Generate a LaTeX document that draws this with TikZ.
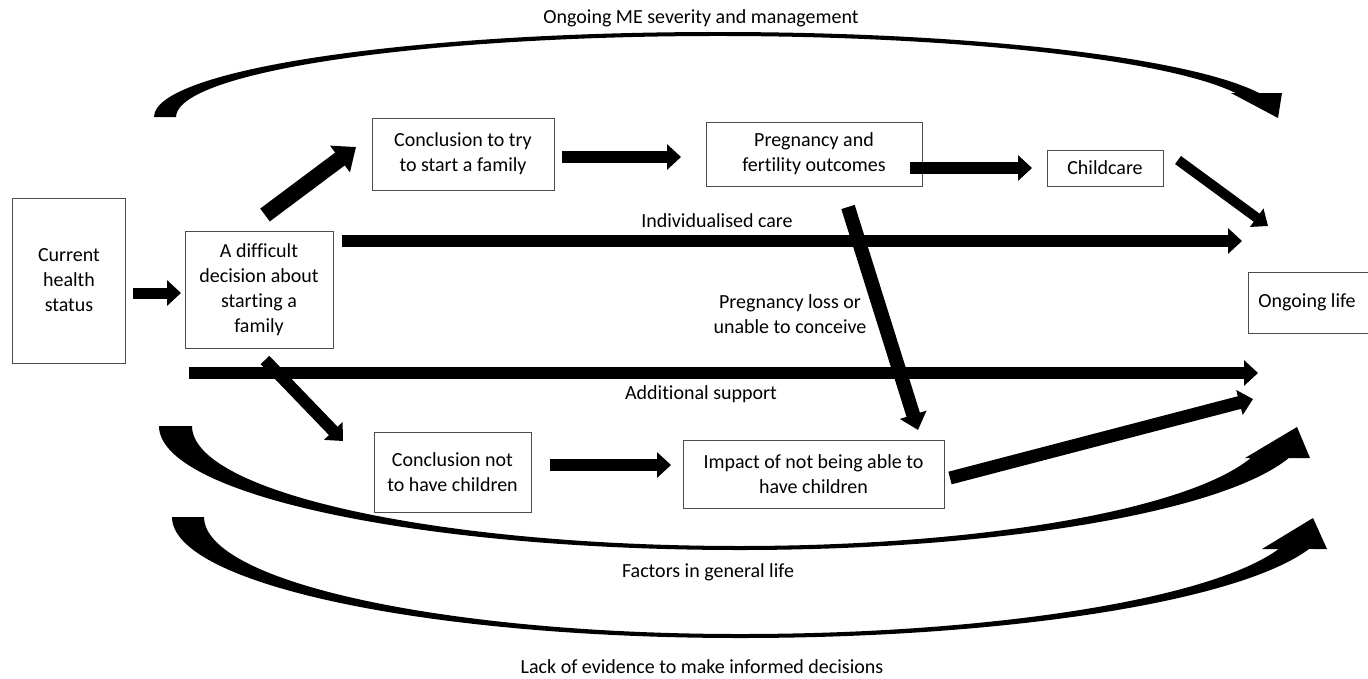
\documentclass[tikz,border=0pt]{standalone}
\usepackage{fontspec}
\setmainfont{Carlito}[Ligatures=NoCommon]
\usetikzlibrary{positioning,arrows.meta}

\begin{document}
\begin{tikzpicture}[x=1pt, y=-1pt,
    font=\fontsize{20}{25}\selectfont,
    box/.style={draw=black!70, line width=0.8pt, align=center, inner sep=0pt},
    lbl/.style={align=center, inner sep=0pt},
    blk/.style={line width=12pt, -{Triangle[length=14pt,width=25pt]}}]
    \useasboundingbox (0,0) rectangle (1368,678);

    % boxes
    \node[box, minimum width=113pt, minimum height=165pt] (cur) at (69,280.5) {Current\\health\\status};
    \node[box, minimum width=148pt, minimum height=117pt] (dec) at (259,289.5) {A difficult\\decision about\\starting a\\family};
    \node[box, minimum width=182pt, minimum height=72pt] (ctry) at (463,154) {Conclusion to try\\to start a family};
    \node[box, minimum width=216pt, minimum height=64pt] (preg) at (814,154) {Pregnancy and\\fertility outcomes};
    \node[box, minimum width=116pt, minimum height=36pt] (child) at (1105,168) {Childcare};
    \node[box, minimum width=122pt, minimum height=61pt] (life) at (1309,302.5) {\hspace*{-4pt}Ongoing life};
    \node[box, minimum width=157pt, minimum height=80pt] (cnot) at (452.5,472) {Conclusion not\\to have children};
    \node[box, minimum width=261pt, minimum height=68pt] (imp) at (813.5,474) {Impact of not being able to\\have children};

    % labels
    \node[lbl] (me) at (701,18) {Ongoing ME severity and management};
    \node[lbl] (indiv) at (717,221) {Individualised care};
    \node[lbl] (loss) at (790,314) {Pregnancy loss or\\unable to conceive};
    \node[lbl] (supp) at (701,394) {Additional support};
    \node[lbl] (gen) at (708,572) {Factors in general life};
    \node[lbl] (evid) at (702,667) {Lack of evidence to make informed decisions};

    % arrow ends
    \coordinate (cur-r) at (133,293);
    \coordinate (dec-l) at (181,293);
    \coordinate (dec-t) at (265,215);
    \coordinate (ctry-l) at (356,147);
    \coordinate (ctry-r) at (562,157);
    \coordinate (preg-l) at (681,157);
    \coordinate (preg-r) at (910,168);
    \coordinate (child-l) at (1032,168);
    \coordinate (child-r) at (1178,160);
    \coordinate (life-t) at (1268,226);
    \coordinate (dec-b) at (265,360);
    \coordinate (cnot-l) at (343,441);
    \coordinate (cnot-r) at (550,465);
    \coordinate (imp-l) at (671,465);
    \coordinate (preg-b) at (848,207);
    \coordinate (imp-t) at (918,430);
    \coordinate (imp-r) at (950,478);
    \coordinate (life-b) at (1253,399);
    \coordinate (indiv-s) at (342,241);
    \coordinate (indiv-e) at (1242,241);
    \coordinate (supp-s) at (189,373);
    \coordinate (supp-e) at (1258,373);

    \draw[blk, line width=11pt] (cur-r) -- (dec-l);
    \draw[blk, line width=16pt, -{Triangle[length=20pt,width=32pt]}] (dec-t) -- (ctry-l);
    \draw[blk] (ctry-r) -- (preg-l);
    \draw[blk] (preg-r) -- (child-l);
    \draw[blk, line width=10pt, -{Triangle[length=14pt,width=22pt]}] (child-r) -- (life-t);
    \draw[blk] (indiv-s) -- (indiv-e);
    \draw[blk] (supp-s) -- (supp-e);
    \draw[blk] (dec-b) -- (cnot-l);
    \draw[blk] (cnot-r) -- (imp-l);
    \draw[blk, line width=14pt, -{Triangle[length=16pt,width=27pt]}] (preg-b) -- (imp-t);
    \draw[blk, line width=13pt, -{Triangle[length=14pt,width=25pt]}] (imp-r) -- (life-b);

    % curved arrows
    \fill (154,117) arc[start angle=180, end angle=16.40, x radius=564pt, y radius=85pt]
        -- (1282,93) -- (1278,118) -- (1231,93) -- (1235.7,93)
        arc[start angle=17.24, end angle=180, x radius=542pt, y radius=81pt] -- cycle;
    \fill (159,426) arc[start angle=180, end angle=270, x radius=581pt, y radius=124pt]
        arc[start angle=270, end angle=345.04, x radius=568pt, y radius=124pt]
        -- (1310,458) -- (1297,427) -- (1245,458) -- (1250.8,458)
        arc[start angle=344.53, end angle=270, x radius=530pt, y radius=120pt]
        arc[start angle=270, end angle=180, x radius=548pt, y radius=120pt] -- cycle;
    \fill (172,517) arc[start angle=180, end angle=270, x radius=568pt, y radius=121pt]
        arc[start angle=270, end angle=344.67, x radius=590pt, y radius=121pt]
        -- (1327,549) -- (1313,518) -- (1262,549) -- (1278.7,549)
        arc[start angle=344.13, end angle=270, x radius=560pt, y radius=117pt]
        arc[start angle=270, end angle=180, x radius=536pt, y radius=117pt] -- cycle;
\end{tikzpicture}
\end{document}
